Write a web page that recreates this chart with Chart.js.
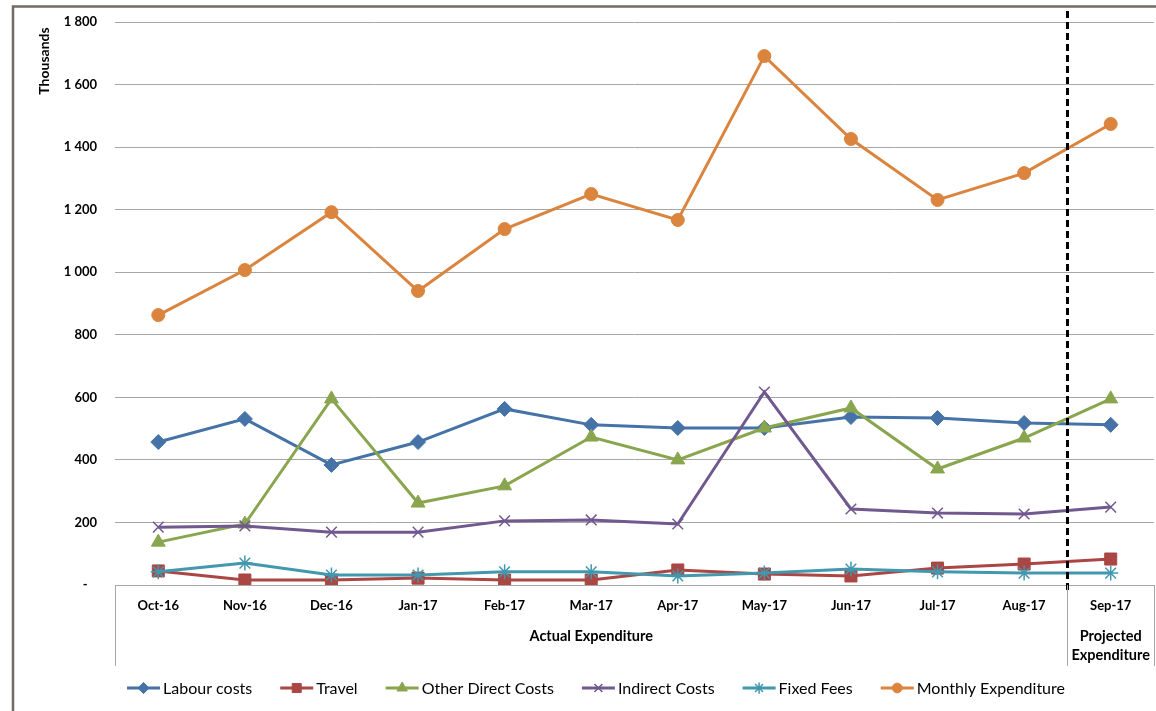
<!DOCTYPE html>
<html>
<head>
<meta charset="utf-8">
<script src="https://cdn.jsdelivr.net/npm/chart.js@4/dist/chart.umd.min.js"></script>
<style>
  html, body { margin: 0; padding: 0; background: #ffffff; }
  #wrap { width: 1156px; height: 711px; position: relative; }
  canvas { display: block; }
</style>
</head>
<body>
<div id="wrap"><canvas id="c" width="1156" height="711"></canvas></div>
<script>
// Monthly spend per cost line, in thousands
const months = ['Oct-16','Nov-16','Dec-16','Jan-17','Feb-17','Mar-17','Apr-17','May-17','Jun-17','Jul-17','Aug-17','Sep-17'];
const labourCosts = [457, 531, 384, 457, 563, 512, 502, 502, 537, 534, 518, 512];
const travel = [45, 16, 16, 22, 16, 16, 48, 35, 29, 54, 67, 83];
const otherDirectCosts = [137, 195, 595, 262, 317, 473, 400, 502, 566, 371, 470, 595];
const indirectCosts = [185, 189, 169, 169, 205, 208, 195, 617, 243, 230, 227, 249];
const fixedFees = [42, 70, 32, 32, 42, 42, 29, 38, 51, 42, 38, 38];
const monthlyExpenditure = [863, 1007, 1192, 940, 1138, 1250, 1167, 1691, 1426, 1231, 1317, 1474];

// Second row of the category axis: group names and how many months each covers
const groupLabels = [['Actual Expenditure'], ['Projected', 'Expenditure']];
const groupSizes = [11, 1];

const yTicks = [0, 200, 400, 600, 800, 1000, 1200, 1400, 1600, 1800];

const FONT = 'Lato, "Open Sans", "DejaVu Sans", sans-serif';

const seriesStyle = [
  { label: 'Labour costs', data: labourCosts, color: '#4572A7', point: 'rectRot', r: 7.5, bw: 1 },
  { label: 'Travel', data: travel, color: '#AA4643', point: 'rect', r: 8.5, bw: 1 },
  { label: 'Other Direct Costs', data: otherDirectCosts, color: '#89A54E', point: 'triangle', r: 8, bw: 1 },
  { label: 'Indirect Costs', data: indirectCosts, color: '#71588F', point: 'crossRot', r: 7.5, bw: 1.5 },
  { label: 'Fixed Fees', data: fixedFees, color: '#4198AF', point: 'star', r: 7.5, bw: 1.5 },
  { label: 'Monthly Expenditure', data: monthlyExpenditure, color: '#DB843D', point: 'circle', r: 6.5, bw: 1 }
];

const datasets = seriesStyle.map((s, i) => ({
  label: s.label,
  data: s.data,
  borderColor: s.color,
  backgroundColor: s.color,
  borderWidth: 3,
  pointStyle: s.point,
  pointRadius: s.r,
  pointHoverRadius: s.r,
  pointBorderWidth: s.bw,
  pointBorderColor: s.color,
  pointBackgroundColor: s.color,
  tension: 0,
  order: seriesStyle.length - i
}));

function fmtThousands(v) {
  if (v === 0) return '-   ';
  return String(v).replace(/\B(?=(\d{3})+(?!\d))/g, ' ');
}

const decor = {
  id: 'decor',
  afterDatasetsDraw(chart) {
    const ctx = chart.ctx;
    const x = chart.scales.x;
    const area = chart.chartArea;
    // divider between actual and projected months
    const split = (x.getPixelForValue(10) + x.getPixelForValue(11)) / 2;
    ctx.save();
    ctx.strokeStyle = '#000000';
    ctx.lineWidth = 3;
    ctx.setLineDash([7, 4]);
    ctx.beginPath();
    ctx.moveTo(Math.round(split) + 0.5, 11);
    ctx.lineTo(Math.round(split) + 0.5, area.bottom + 6);
    ctx.stroke();
    ctx.restore();
  },
  afterDraw(chart) {
    const ctx = chart.ctx;
    const x = chart.scales.x;
    const area = chart.chartArea;
    const step = x.getPixelForValue(1) - x.getPixelForValue(0);
    ctx.save();

    // outer frame
    ctx.strokeStyle = '#746a62';
    ctx.lineWidth = 2.5;
    ctx.beginPath();
    ctx.moveTo(13, 720);
    ctx.lineTo(13, 6.5);
    ctx.lineTo(1160, 6.5);
    ctx.stroke();

    // group separators on the category axis
    ctx.strokeStyle = '#a6a6a6';
    ctx.lineWidth = 1;
    let idx = 0;
    const bounds = [x.getPixelForValue(0) - step / 2];
    groupSizes.forEach(n => { idx += n; bounds.push(x.getPixelForValue(idx - 1) + step / 2); });
    bounds.forEach(b => {
      const px = Math.round(Math.min(b, chart.width - 2)) + 0.5;
      ctx.beginPath();
      ctx.moveTo(px, area.bottom);
      ctx.lineTo(px, 666);
      ctx.stroke();
    });

    // group names
    ctx.fillStyle = '#000000';
    ctx.font = 'bold 14.5px ' + FONT;
    ctx.textAlign = 'center';
    ctx.textBaseline = 'middle';
    groupLabels.forEach((lines, g) => {
      const cx = (bounds[g] + bounds[g + 1]) / 2;
      lines.forEach((t, k) => ctx.fillText(t, cx, 636 + k * 19));
    });

    // unit label for the value axis
    ctx.save();
    ctx.translate(44, 61);
    ctx.rotate(-Math.PI / 2);
    ctx.font = 'bold 14px ' + FONT;
    ctx.textAlign = 'center';
    ctx.textBaseline = 'middle';
    ctx.fillText('Thousands', 0, 0);
    ctx.restore();

    // legend: short line with the series marker, then the name
    ctx.font = '16px ' + FONT;
    ctx.textAlign = 'left';
    ctx.textBaseline = 'middle';
    const ly = 688;
    const lineLen = 33, gapText = 3, gapItem = 28;
    const widths = chart.data.datasets.map(d => ctx.measureText(d.label).width);
    const total = widths.reduce((a, w) => a + lineLen + gapText + w, 0) + gapItem * (widths.length - 1);
    let lx = 596 - total / 2;
    chart.data.datasets.forEach((d, i) => {
      ctx.strokeStyle = d.borderColor;
      ctx.lineWidth = 3;
      ctx.beginPath();
      ctx.moveTo(lx, ly);
      ctx.lineTo(lx + lineLen, ly);
      ctx.stroke();
      ctx.fillStyle = d.pointBackgroundColor;
      ctx.lineWidth = d.pointBorderWidth;
      Chart.helpers.drawPoint(ctx, { pointStyle: d.pointStyle, radius: d.pointRadius * 0.75, borderWidth: d.pointBorderWidth, rotation: 0 }, lx + lineLen / 2, ly);
      ctx.fillStyle = '#000000';
      ctx.fillText(d.label, lx + lineLen + gapText, ly + 1);
      lx += lineLen + gapText + widths[i] + gapItem;
    });
    ctx.restore();
  }
};

new Chart(document.getElementById('c'), {
  type: 'line',
  data: { labels: months, datasets },
  options: {
    responsive: false,
    animation: false,
    devicePixelRatio: 1,
    layout: { autoPadding: false, padding: { top: 22, right: 2, bottom: 0, left: 0 } },
    plugins: {
      legend: { display: false },
      tooltip: { enabled: false },
      title: { display: false }
    },
    scales: {
      x: {
        type: 'category',
        offset: true,
        grid: { display: false, drawTicks: false },
        border: { display: true, color: '#a6a6a6', width: 1 },
        ticks: {
          color: '#000000',
          font: { family: FONT, size: 13, weight: 'bold' },
          padding: 13,
          maxRotation: 0,
          autoSkip: false
        },
        afterFit(scale) { scale.height = 126; scale.paddingLeft = 0; scale.paddingRight = 0; }
      },
      y: {
        min: 0,
        max: 1800,
        afterBuildTicks(scale) { scale.ticks = yTicks.map(v => ({ value: v })); },
        grid: { color: '#a6a6a6', lineWidth: 1, drawTicks: false },
        border: { display: false },
        ticks: {
          color: '#000000',
          font: { family: FONT, size: 13, weight: 'bold' },
          padding: 18,
          callback: v => fmtThousands(v)
        },
        afterFit(scale) { scale.width = 115; scale.paddingTop = 0; scale.paddingBottom = 0; }
      }
    }
  },
  plugins: [decor]
});
</script>
</body>
</html>
